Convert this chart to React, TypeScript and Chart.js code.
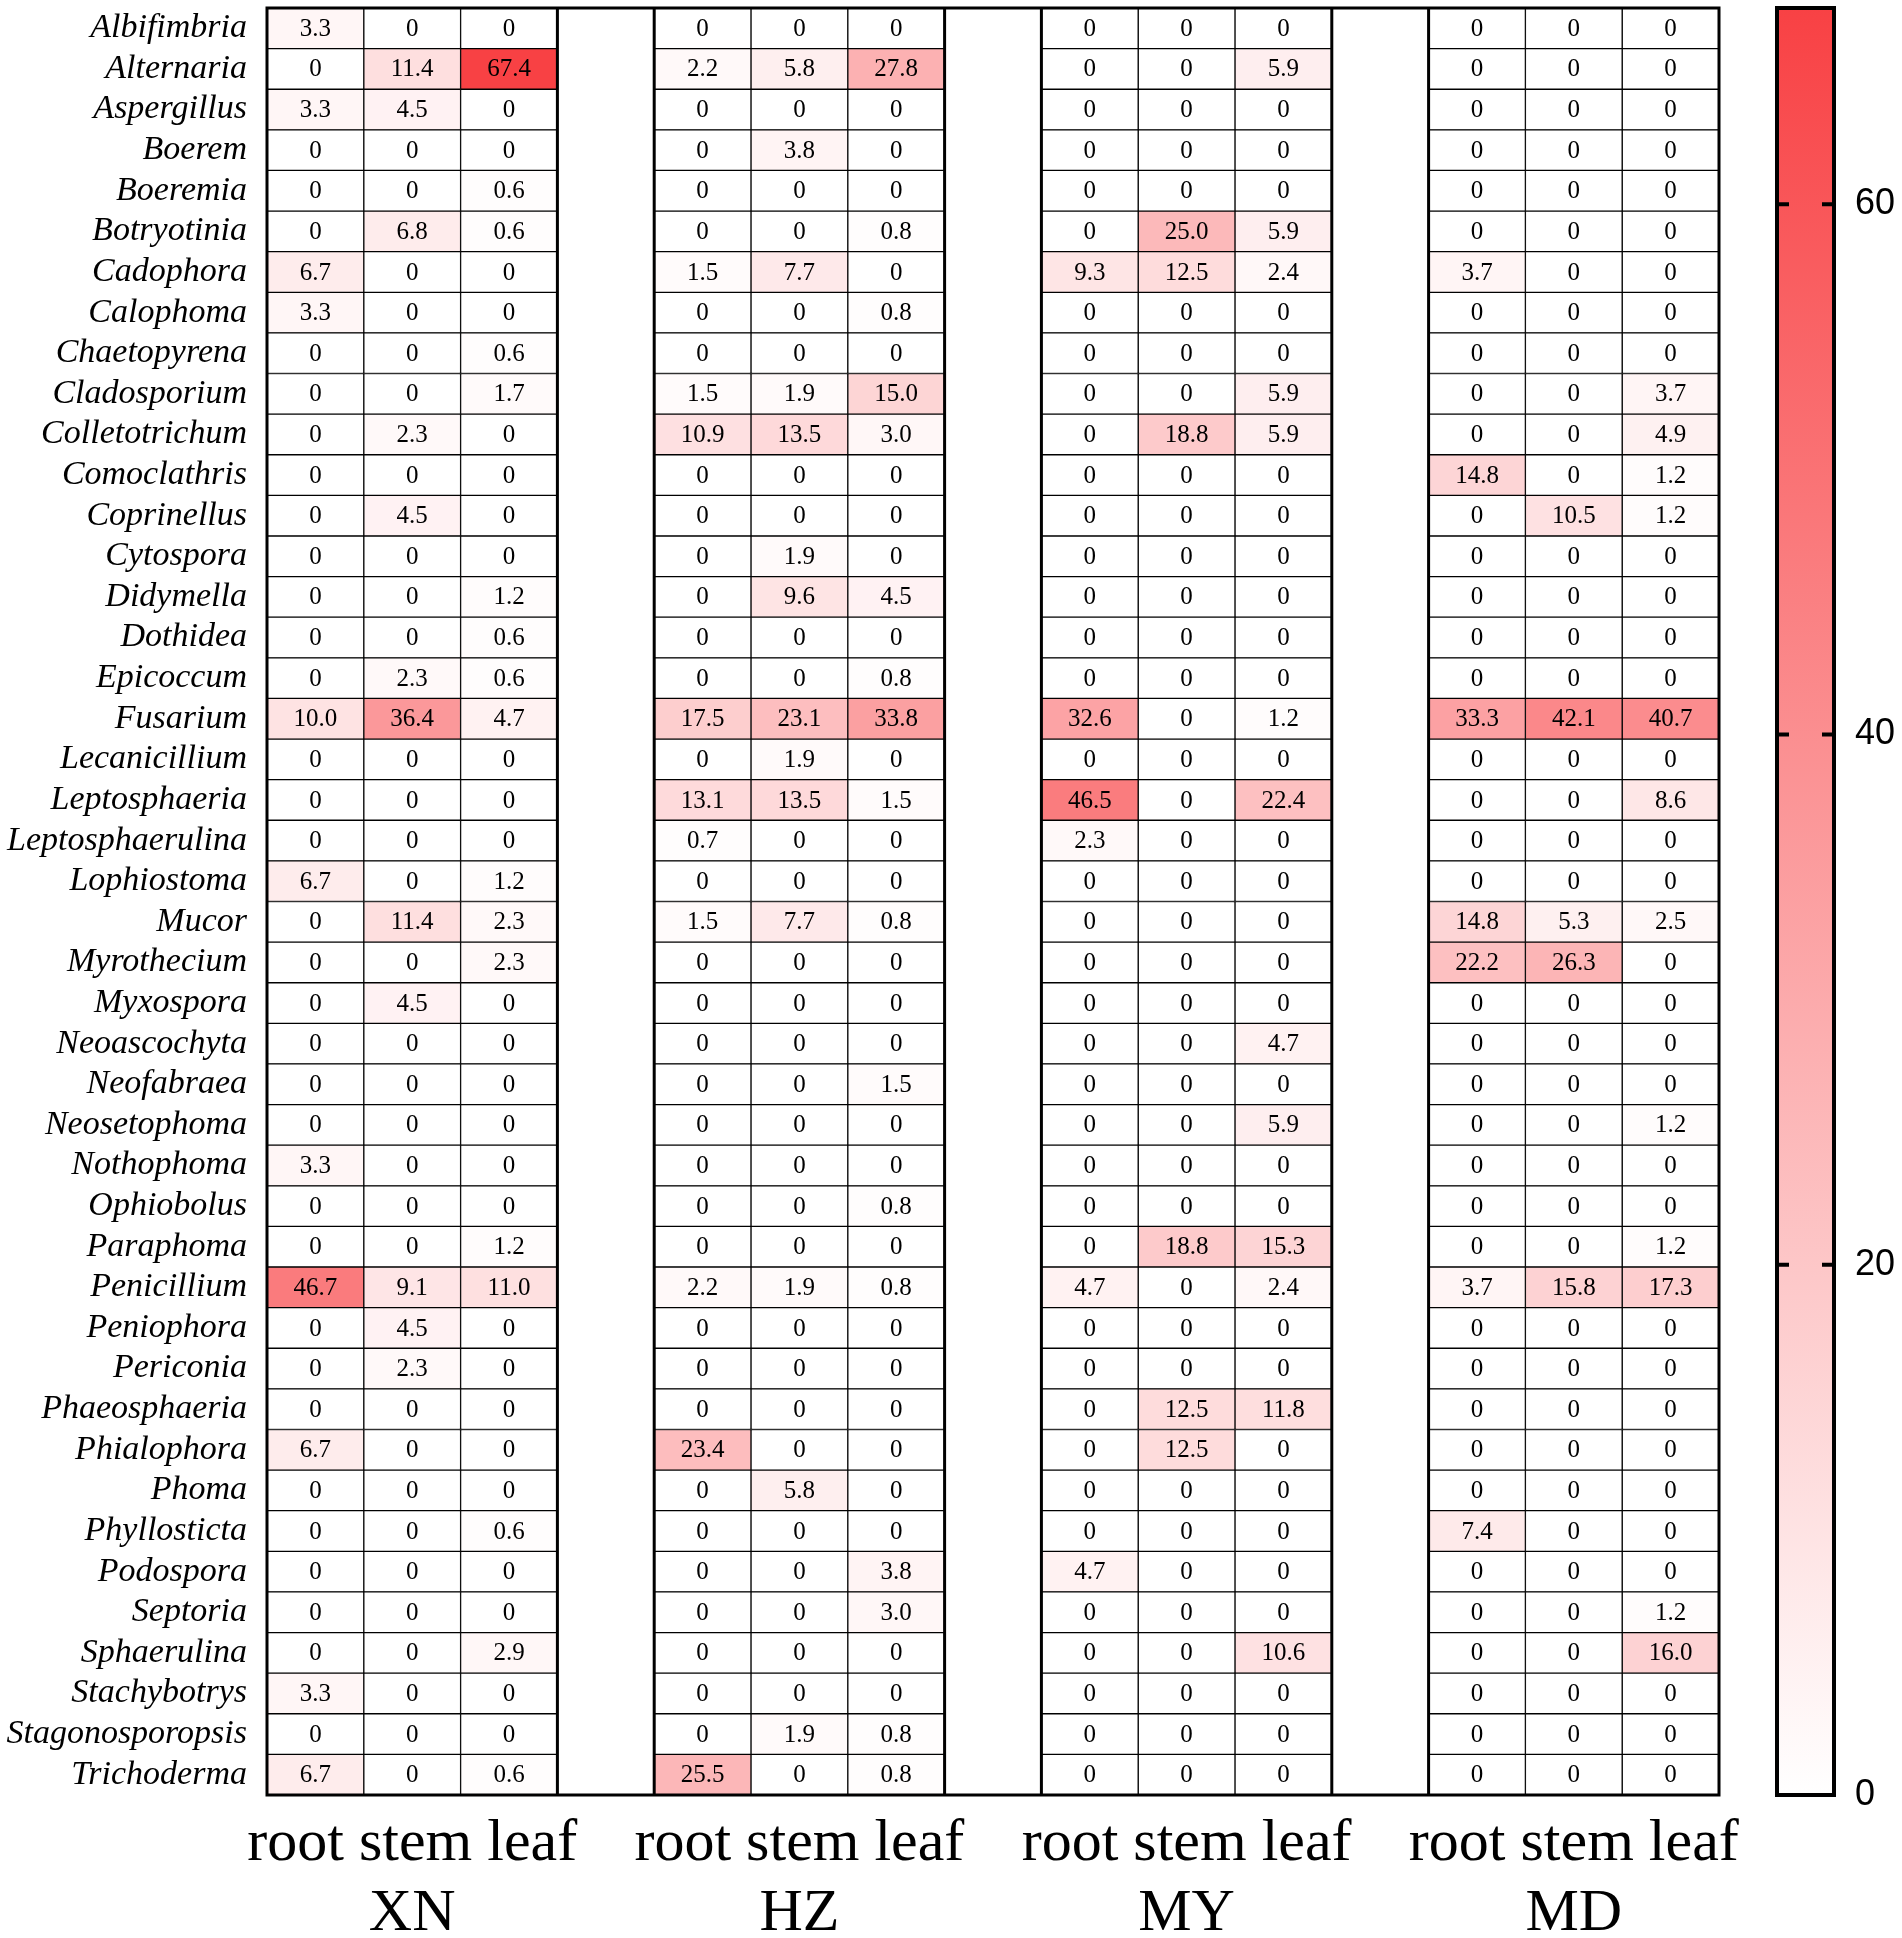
import React, { useEffect, useRef } from "react";
import { Chart, registerables } from "chart.js";

Chart.register(...registerables);

const genera = [
  "Albifimbria", "Alternaria", "Aspergillus", "Boerem", "Boeremia", "Botryotinia", "Cadophora", "Calophoma",
  "Chaetopyrena", "Cladosporium", "Colletotrichum", "Comoclathris", "Coprinellus", "Cytospora", "Didymella",
  "Dothidea", "Epicoccum", "Fusarium", "Lecanicillium", "Leptosphaeria", "Leptosphaerulina", "Lophiostoma",
  "Mucor", "Myrothecium", "Myxospora", "Neoascochyta", "Neofabraea", "Neosetophoma", "Nothophoma", "Ophiobolus",
  "Paraphoma", "Penicillium", "Peniophora", "Periconia", "Phaeosphaeria", "Phialophora", "Phoma", "Phyllosticta",
  "Podospora", "Septoria", "Sphaerulina", "Stachybotrys", "Stagonosporopsis", "Trichoderma",
];

const sites = ["XN", "HZ", "MY", "MD"];
const parts = ["root", "stem", "leaf"];
const colorbarTicks = [0, 20, 40, 60];
const colorMax = 67.4;

const xnRoot = [3.3,0,3.3,0,0,0,6.7,3.3,0,0, 0,0,0,0,0,0,0,10.0,0,0, 0,6.7,0,0,0,0,0,0,3.3,0, 0,46.7,0,0,0,6.7,0,0,0,0, 0,3.3,0,6.7];
const xnStem = [0,11.4,4.5,0,0,6.8,0,0,0,0, 2.3,0,4.5,0,0,0,2.3,36.4,0,0, 0,0,11.4,0,4.5,0,0,0,0,0, 0,9.1,4.5,2.3,0,0,0,0,0,0, 0,0,0,0];
const xnLeaf = [0,67.4,0,0,0.6,0.6,0,0,0.6,1.7, 0,0,0,0,1.2,0.6,0.6,4.7,0,0, 0,1.2,2.3,2.3,0,0,0,0,0,0, 1.2,11.0,0,0,0,0,0,0.6,0,0, 2.9,0,0,0.6];
const hzRoot = [0,2.2,0,0,0,0,1.5,0,0,1.5, 10.9,0,0,0,0,0,0,17.5,0,13.1, 0.7,0,1.5,0,0,0,0,0,0,0, 0,2.2,0,0,0,23.4,0,0,0,0, 0,0,0,25.5];
const hzStem = [0,5.8,0,3.8,0,0,7.7,0,0,1.9, 13.5,0,0,1.9,9.6,0,0,23.1,1.9,13.5, 0,0,7.7,0,0,0,0,0,0,0, 0,1.9,0,0,0,0,5.8,0,0,0, 0,0,1.9,0];
const hzLeaf = [0,27.8,0,0,0,0.8,0,0.8,0,15.0, 3.0,0,0,0,4.5,0,0.8,33.8,0,1.5, 0,0,0.8,0,0,0,1.5,0,0,0.8, 0,0.8,0,0,0,0,0,0,3.8,3.0, 0,0,0.8,0.8];
const myRoot = [0,0,0,0,0,0,9.3,0,0,0, 0,0,0,0,0,0,0,32.6,0,46.5, 2.3,0,0,0,0,0,0,0,0,0, 0,4.7,0,0,0,0,0,0,4.7,0, 0,0,0,0];
const myStem = [0,0,0,0,0,25.0,12.5,0,0,0, 18.8,0,0,0,0,0,0,0,0,0, 0,0,0,0,0,0,0,0,0,0, 18.8,0,0,0,12.5,12.5,0,0,0,0, 0,0,0,0];
const myLeaf = [0,5.9,0,0,0,5.9,2.4,0,0,5.9, 5.9,0,0,0,0,0,0,1.2,0,22.4, 0,0,0,0,0,4.7,0,5.9,0,0, 15.3,2.4,0,0,11.8,0,0,0,0,0, 10.6,0,0,0];
const mdRoot = [0,0,0,0,0,0,3.7,0,0,0, 0,14.8,0,0,0,0,0,33.3,0,0, 0,0,14.8,22.2,0,0,0,0,0,0, 0,3.7,0,0,0,0,0,7.4,0,0, 0,0,0,0];
const mdStem = [0,0,0,0,0,0,0,0,0,0, 0,0,10.5,0,0,0,0,42.1,0,0, 0,0,5.3,26.3,0,0,0,0,0,0, 0,15.8,0,0,0,0,0,0,0,0, 0,0,0,0];
const mdLeaf = [0,0,0,0,0,0,0,0,0,3.7, 4.9,1.2,1.2,0,0,0,0,40.7,0,8.6, 0,0,2.5,0,0,0,0,1.2,0,0, 1.2,17.3,0,0,0,0,0,0,0,1.2, 16.0,0,0,0];

const siteColumns = [
  [xnRoot, xnStem, xnLeaf],
  [hzRoot, hzStem, hzLeaf],
  [myRoot, myStem, myLeaf],
  [mdRoot, mdStem, mdLeaf],
];

const W = 1902;
const H = 1938;

const LOW = [255, 255, 255];
const HIGH = [248, 65, 68];

function colorFor(v: number): string {
  const t = Math.max(0, Math.min(1, v / colorMax));
  const c = LOW.map((lo, k) => Math.round(lo + (HIGH[k] - lo) * t));
  return `rgb(${c[0]},${c[1]},${c[2]})`;
}

function fmt(v: number): string {
  return v === 0 ? "0" : v.toFixed(1);
}

const decorPlugin = {
  id: "heatDecor",
  afterDatasetsDraw(chart: any) {
    const ctx = chart.ctx;
    const { top, bottom } = chart.chartArea;
    const xs = chart.scales.x;
    ctx.save();
    // cell numbers
    ctx.font = '25px "Liberation Serif"';
    ctx.fillStyle = "#000";
    ctx.textAlign = "center";
    ctx.textBaseline = "middle";
    chart.data.datasets.forEach((ds: any, di: number) => {
      const meta = chart.getDatasetMeta(di);
      meta.data.forEach((el: any, i: number) => {
        const p = el.getProps(["x", "base", "y"], true);
        ctx.fillText(fmt(ds.values[i]), (p.x + p.base) / 2, p.y + 1);
      });
    });
    // block outlines
    ctx.strokeStyle = "#000";
    ctx.lineWidth = 3;
    ctx.beginPath();
    const x0 = xs.getPixelForValue(0);
    const x1 = xs.getPixelForValue(sites.length * 4 - 1);
    ctx.moveTo(x0 - 1.5, top);
    ctx.lineTo(x1 + 1.5, top);
    ctx.moveTo(x0 - 1.5, bottom);
    ctx.lineTo(x1 + 1.5, bottom);
    sites.forEach((_s, si) => {
      const l = xs.getPixelForValue(si * 4);
      const r = xs.getPixelForValue(si * 4 + 3);
      ctx.moveTo(l, top);
      ctx.lineTo(l, bottom);
      ctx.moveTo(r, top);
      ctx.lineTo(r, bottom);
    });
    ctx.stroke();

    // colorbar
    const cb = chart.scales.cb;
    const bx = cb.left + 58;
    const bw = 57;
    const yT = cb.getPixelForValue(colorMax);
    const yB = cb.getPixelForValue(0);
    const g = ctx.createLinearGradient(0, yB, 0, yT);
    g.addColorStop(0, colorFor(0));
    g.addColorStop(1, colorFor(colorMax));
    ctx.fillStyle = g;
    ctx.fillRect(bx, yT, bw, yB - yT);
    ctx.lineWidth = 4;
    ctx.strokeRect(bx, yT, bw, yB - yT);
    ctx.beginPath();
    colorbarTicks.forEach((t) => {
      if (t === 0) return;
      const y = cb.getPixelForValue(t);
      ctx.moveTo(bx, y);
      ctx.lineTo(bx + 12, y);
      ctx.moveTo(bx + bw - 12, y);
      ctx.lineTo(bx + bw, y);
    });
    ctx.stroke();
    ctx.restore();
  },
};

export default function App() {
  const ref = useRef<HTMLCanvasElement | null>(null);

  useEffect(() => {
    document.body.style.overflow = "hidden";
    const datasets: any[] = [];
    siteColumns.forEach((cols, si) => {
      cols.forEach((vals, pi) => {
        const start = si * 4 + pi;
        datasets.push({
          label: `${sites[si]} ${parts[pi]}`,
          values: vals,
          data: vals.map(() => [start, start + 1]),
          backgroundColor: vals.map(colorFor),
          borderColor: "#000",
          borderWidth: 1,
          borderSkipped: false,
          grouped: false,
          barPercentage: 1,
          categoryPercentage: 1,
        });
      });
    });

    const chart = new Chart(ref.current as HTMLCanvasElement, {
      type: "bar",
      data: { labels: genera, datasets },
      options: {
        indexAxis: "y",
        animation: false,
        responsive: false,
        devicePixelRatio: 1,
        layout: { padding: { top: 8, left: 0, right: 0, bottom: 0 } },
        plugins: { legend: { display: false }, tooltip: { enabled: false } },
        scales: {
          y: {
            type: "category",
            grid: { display: false, drawTicks: false },
            border: { display: false },
            ticks: {
              autoSkip: false,
              padding: 20,
              color: "#000",
              font: { family: "Liberation Serif", size: 34, style: "italic" },
            },
            afterFit: (s: any) => {
              s.width = 267;
              s.paddingTop = 0;
              s.paddingBottom = 0;
            },
          },
          x: {
            type: "linear",
            min: 0,
            max: 15,
            grid: { display: false, drawTicks: false },
            border: { display: false },
            afterBuildTicks: (s: any) => {
              s.ticks = sites.map((_n, i) => ({ value: i * 4 + 1.5 }));
            },
            ticks: {
              autoSkip: false,
              maxRotation: 0,
              padding: 14,
              color: "#000",
              font: { family: "Liberation Serif", size: 60, lineHeight: 1.17 },
              callback: (v: any) => {
                const i = Math.round((Number(v) - 1.5) / 4);
                return [parts.join(" "), sites[i]];
              },
            },
            afterFit: (s: any) => {
              s.height = H - 1795;
              s.paddingLeft = 0;
              s.paddingRight = 0;
            },
          },
          cb: {
            type: "linear",
            position: "right",
            min: 0,
            max: colorMax,
            offset: false,
            grid: { display: false, drawTicks: false, offset: false },
            border: { display: false },
            afterBuildTicks: (s: any) => {
              s.ticks = colorbarTicks.map((v) => ({ value: v }));
            },
            ticks: {
              padding: 136,
              color: "#000",
              font: { family: "Liberation Sans", size: 36 },
            },
            afterFit: (s: any) => {
              s.width = W - 1719;
              s.paddingTop = 0;
              s.paddingBottom = 0;
            },
          },
        },
      } as any,
      plugins: [decorPlugin],
    });
    return () => chart.destroy();
  }, []);

  return (
    <div style={{ position: "absolute", left: 0, top: 0, width: W, height: H, background: "#fff" }}>
      <canvas ref={ref} width={W} height={H} style={{ display: "block", width: W, height: H }} />
    </div>
  );
}
